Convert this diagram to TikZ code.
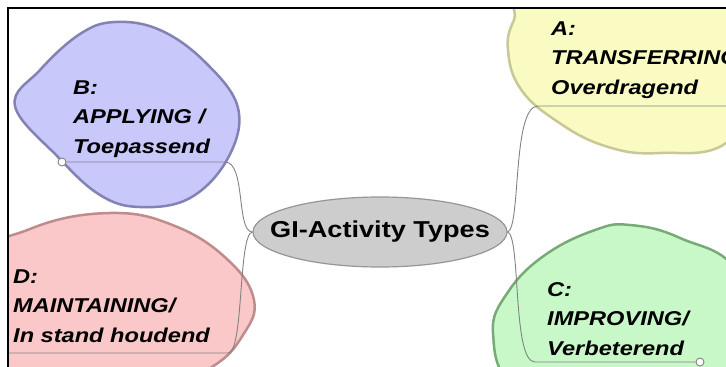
\documentclass[tikz,border=0pt]{standalone}
\usepackage{fontspec}
\setmainfont{Liberation Sans}
\newfontfamily\mapfont[FakeStretch=1.18]{Liberation Sans}
\usetikzlibrary{shapes.geometric}

\definecolor{blueFill}{RGB}{200,200,250}
\definecolor{blueLine}{RGB}{130,130,180}
\definecolor{yellowFill}{RGB}{250,250,195}
\definecolor{yellowLine}{RGB}{200,200,150}
\definecolor{greenFill}{RGB}{200,248,200}
\definecolor{greenLine}{RGB}{120,170,120}
\definecolor{pinkFill}{RGB}{250,200,200}
\definecolor{pinkLine}{RGB}{190,140,140}
\definecolor{hubFill}{RGB}{205,205,205}
\definecolor{hubLine}{RGB}{150,150,150}
\definecolor{twigGray}{RGB}{130,130,130}

\tikzset{
  blob/.style={line width=2.5pt, line join=round},
  hub/.style={ellipse, draw=hubLine, fill=hubFill, line width=1.2pt, minimum width=254pt, minimum height=70pt, inner sep=0pt},
  topic/.style={anchor=base west, align=left, inner sep=0pt, font=\mapfont\fontsize{20}{29.5}\selectfont\bfseries\itshape},
  twig/.style={draw=twigGray, line width=0.9pt},
  knob/.style={circle, draw=twigGray, fill=white, line width=0.9pt, minimum size=8pt, inner sep=0pt}
}

\begin{document}
\begin{tikzpicture}[x=1pt,y=-1pt]
\useasboundingbox (0,0) rectangle (726,367);
\begin{scope}
\clip (8,8) rectangle (726,367);
% the four topic blobs
\filldraw[blob, draw=blueLine, fill=blueFill] plot[smooth cycle, tension=0.65] coordinates {(15,106) (40,70) (80,34) (115,22) (160,30) (205,62) (238,108) (228,158) (190,198) (140,207) (100,195) (58,157)};
\filldraw[blob, draw=yellowLine, fill=yellowFill] plot[smooth cycle, tension=0.7] coordinates {(535,-10) (514,20) (508,50) (520,88) (555,120) (605,146) (660,153) (730,140) (770,60) (700,-20)};
\filldraw[blob, draw=greenLine, fill=greenFill] plot[smooth cycle, tension=0.7] coordinates {(493,333) (508,292) (545,255) (595,230) (630,225) (680,238) (740,275) (770,380) (600,400) (515,385)};
\filldraw[blob, draw=pinkLine, fill=pinkFill] plot[smooth cycle, tension=0.7] coordinates {(-30,270) (30,229) (110,213) (175,226) (228,260) (254,300) (243,335) (212,367) (150,395) (-30,395)};
% centre
\node[hub, label={[font=\mapfont\fontsize{23}{27}\selectfont\bfseries]center:GI-Activity Types}] (core) at (380,232) {};
% topic texts (base = last line)
\node[topic] (topicA) at (551,94) {A:\\TRANSFERRING\\Overdragend};
\node[topic] (topicB) at (73,153) {B:\\APPLYING /\\Toepassend};
\node[topic] (topicC) at (547,355) {C:\\IMPROVING/\\Verbeterend};
\node[topic] (topicD) at (13,342) {D:\\MAINTAINING/\\In stand houdend};
% branch ends
\node[knob] (knobB) at (62,162) {};
\node[knob] (knobC) at (700,362) {};
\coordinate (bendA) at (538,106);
\coordinate (tailA) at (740,106);
\coordinate (bendB) at (225,162);
\coordinate (bendC) at (535,362);
\coordinate (bendD) at (228,353);
\coordinate (tailD) at (0,353);
\draw[twig] (knobB.east) -- (bendB) .. controls (246,162) and (236,232) .. (core.west);
\draw[twig] (core.west) .. controls (238,234) and (244,353) .. (bendD) -- (tailD);
\draw[twig] (core.east) .. controls (521,228) and (512,106) .. (bendA) -- (tailA);
\draw[twig] (core.east) .. controls (521,236) and (512,362) .. (bendC) -- (knobC.west);
\end{scope}
\draw[line width=2.5pt] (726,8) -- (8,8) -- (8,367);
\end{tikzpicture}
\end{document}
